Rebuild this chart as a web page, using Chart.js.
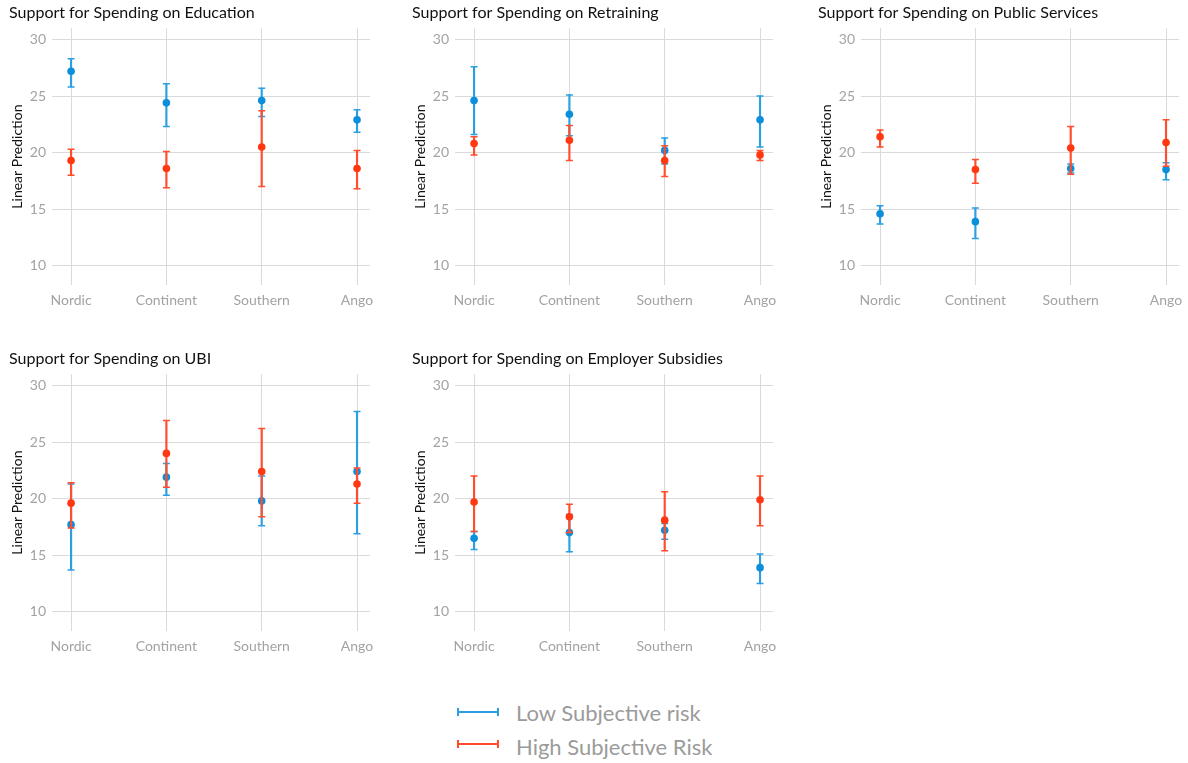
<!DOCTYPE html>
<html>
<head>
<meta charset="utf-8">
<script src="https://cdn.jsdelivr.net/npm/chart.js@4"></script>
<style>
  body { margin: 0; background: #fff; width: 1188px; height: 763px; position: relative; overflow: hidden; font-family: Lato, sans-serif; }
  .panel { position: absolute; width: 385px; height: 320px; }
  .key { position: absolute; left: 457px; width: 38px; height: 8px; }
  .key::after { content: ''; position: absolute; left: 0; right: 0; top: 3px; height: 2px; background: currentColor; }
  .key.low { top: 708px; color: #29a0e2; border-left: 2px solid #29a0e2; border-right: 2px solid #29a0e2; }
  .key.high { top: 740px; color: #ff4a2c; border-left: 2px solid #ff4a2c; border-right: 2px solid #ff4a2c; }
  .label { position: absolute; left: 516px; font-size: 22px; color: #9b9b9b; line-height: 26px; }
</style>
</head>
<body>
<div class="panel" style="left:0;top:0"><canvas id="c0"></canvas></div>
<div class="panel" style="left:403px;top:0"><canvas id="c1"></canvas></div>
<div class="panel" style="left:809px;top:0"><canvas id="c2"></canvas></div>
<div class="panel" style="left:0;top:346px"><canvas id="c3"></canvas></div>
<div class="panel" style="left:403px;top:346px"><canvas id="c4"></canvas></div>

<div class="key low"></div><div class="label" style="top:700px">Low Subjective risk</div>
<div class="key high"></div><div class="label" style="top:734px">High Subjective Risk</div>

<script>
// ── Data ──────────────────────────────────────────────
var categories = ['Nordic', 'Continent', 'Southern', 'Ango'];
var yTicks = [10, 15, 20, 25, 30];
var titles = [
  'Support for Spending on Education',
  'Support for Spending on Retraining',
  'Support for Spending on Public Services',
  'Support for Spending on UBI',
  'Support for Spending on Employer Subsidies'
];

// Education
var eduLow    = [27.2, 24.4, 24.6, 22.9];
var eduLowCI  = [[25.8, 28.3], [22.3, 26.1], [23.2, 25.7], [21.8, 23.8]];
var eduHigh   = [19.3, 18.6, 20.5, 18.6];
var eduHighCI = [[18.0, 20.3], [16.9, 20.1], [17.0, 23.7], [16.8, 20.2]];

// Retraining
var retLow    = [24.6, 23.4, 20.2, 22.9];
var retLowCI  = [[21.6, 27.6], [21.5, 25.1], [19.0, 21.3], [20.5, 25.0]];
var retHigh   = [20.8, 21.1, 19.3, 19.8];
var retHighCI = [[19.8, 21.4], [19.3, 22.4], [17.9, 20.6], [19.3, 20.2]];

// Public services
var pubLow    = [14.6, 13.9, 18.6, 18.5];
var pubLowCI  = [[13.7, 15.3], [12.4, 15.1], [18.2, 19.0], [17.6, 19.1]];
var pubHigh   = [21.4, 18.5, 20.4, 20.9];
var pubHighCI = [[20.5, 22.0], [17.3, 19.4], [18.1, 22.3], [18.8, 22.9]];

// UBI
var ubiLow    = [17.7, 21.9, 19.8, 22.4];
var ubiLowCI  = [[13.7, 21.3], [20.3, 23.1], [17.6, 22.0], [16.9, 27.7]];
var ubiHigh   = [19.6, 24.0, 22.4, 21.3];
var ubiHighCI = [[17.4, 21.4], [21.0, 26.9], [18.4, 26.2], [19.6, 22.7]];

// Employer subsidies
var empLow    = [16.5, 17.0, 17.2, 13.9];
var empLowCI  = [[15.5, 17.1], [15.3, 18.6], [16.4, 17.8], [12.5, 15.1]];
var empHigh   = [19.7, 18.4, 18.1, 19.9];
var empHighCI = [[17.1, 22.0], [17.0, 19.5], [15.4, 20.6], [17.6, 22.0]];

var panels = [
  [eduLow, eduLowCI, eduHigh, eduHighCI],
  [retLow, retLowCI, retHigh, retHighCI],
  [pubLow, pubLowCI, pubHigh, pubHighCI],
  [ubiLow, ubiLowCI, ubiHigh, ubiHighCI],
  [empLow, empLowCI, empHigh, empHighCI]
];

// ── Styles ────────────────────────────────────────────
var LOW_DOT = '#0b8fdb', LOW_BAR = '#2aa0e2';
var HIGH_DOT = '#ff3811', HIGH_BAR = '#ff4d2e';
var GRID = '#dadada', TICK = '#a3a3a3';

function seriesSets(mean, ci, dot, bar) {
  return [
    { type: 'scatter', data: mean.map(function (v, i) { return { x: i + 1, y: v }; }),
      pointRadius: 3.8, pointBackgroundColor: dot, pointBorderWidth: 0 },
    { type: 'scatter', data: ci.reduce(function (a, r, i) { return a.concat([{ x: i + 1, y: r[0] }, { x: i + 1, y: r[1] }]); }, []),
      pointStyle: 'line', pointRadius: 3.5, pointBorderColor: bar, pointBorderWidth: 1.5 },
    { type: 'bar', data: ci.map(function (r, i) { return { x: i + 1, y: [r[0], r[1]] }; }),
      backgroundColor: bar, barThickness: 1.5, grouped: false, borderWidth: 0 }
  ];
}

panels.forEach(function (p, k) {
  var datasets = seriesSets(p[2], p[3], HIGH_DOT, HIGH_BAR).concat(seriesSets(p[0], p[1], LOW_DOT, LOW_BAR));
  new Chart(document.getElementById('c' + k), {
    type: 'scatter',
    data: { datasets: datasets },
    options: {
      responsive: true,
      maintainAspectRatio: false,
      animation: false,
      events: [],
      layout: { padding: { left: 9, right: 15, top: 0, bottom: 5 } },
      plugins: {
        legend: { display: false },
        tooltip: { enabled: false },
        title: {
          display: true, text: titles[k], align: 'start', color: '#111',
          font: { family: 'Lato', size: 16, weight: 'normal' }, padding: { top: 3, bottom: 6 }
        }
      },
      scales: {
        x: {
          type: 'linear', min: 0.8, max: 4.136, offset: false,
          afterBuildTicks: function (s) { s.ticks = categories.map(function (c, i) { return { value: i + 1 }; }); },
          afterFit: function (s) { s.height = 30; },
          grid: { color: GRID, drawTicks: false, offset: false },
          border: { display: false },
          ticks: {
            autoSkip: false, maxRotation: 0, padding: 7, color: TICK,
            font: { family: 'Lato', size: 14 },
            callback: function (v) { return categories[v - 1]; }
          }
        },
        y: {
          type: 'linear', min: 8.3, max: 31,
          afterBuildTicks: function (s) { s.ticks = yTicks.map(function (v) { return { value: v }; }); },
          afterFit: function (s) { s.width = 43; },
          grid: { color: GRID, drawTicks: false },
          border: { display: false },
          ticks: { padding: 6, color: TICK, font: { family: 'Lato', size: 14 } },
          title: { display: true, text: 'Linear Prediction', color: '#111', padding: 0,
                   font: { family: 'Lato', size: 14 } }
        }
      }
    }
  });
});
</script>
</body>
</html>
